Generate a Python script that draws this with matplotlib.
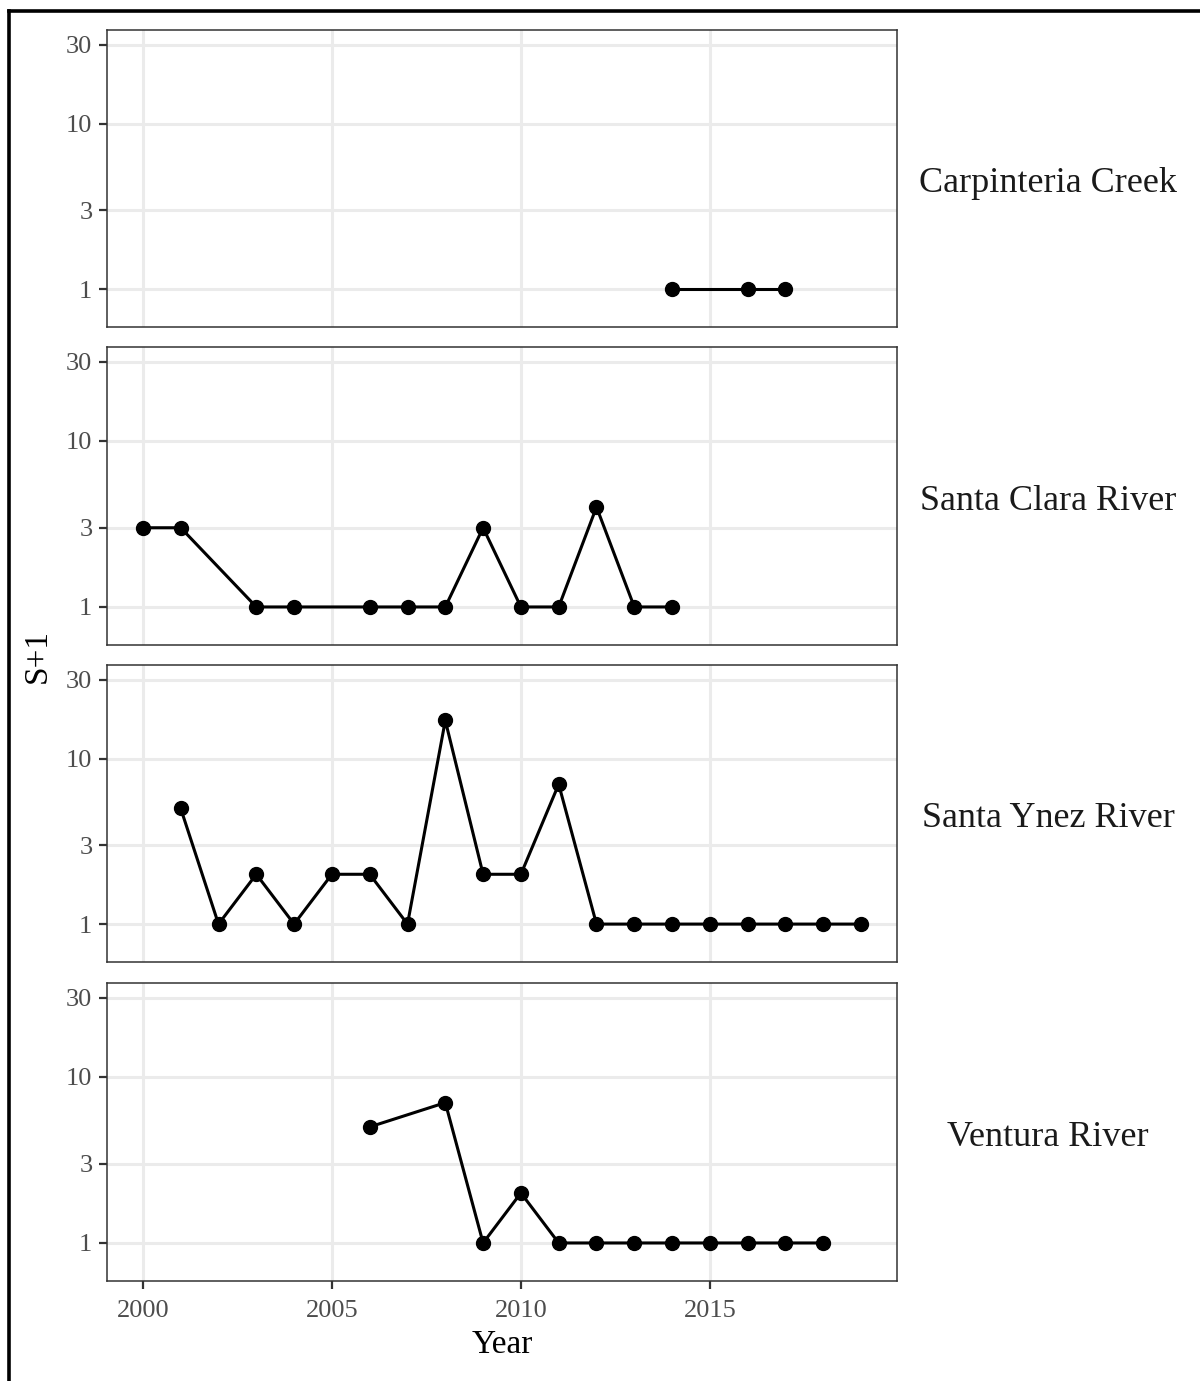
import matplotlib
matplotlib.use("Agg")
import matplotlib.pyplot as plt
from matplotlib.lines import Line2D
import numpy as np

plt.rcParams['font.family'] = ['Liberation Serif', 'DejaVu Serif']

rivers = ["Carpinteria Creek", "Santa Clara River", "Santa Ynez River", "Ventura River"]

carp_years = [2014, 2016, 2017]
carp_vals = [1, 1, 1]

sclara_years = [2000, 2001, 2003, 2004, 2006, 2007, 2008, 2009, 2010, 2011, 2012, 2013, 2014]
sclara_vals = [3, 3, 1, 1, 1, 1, 1, 3, 1, 1, 4, 1, 1]

synez_years = [2001, 2002, 2003, 2004, 2005, 2006, 2007, 2008, 2009, 2010, 2011,
               2012, 2013, 2014, 2015, 2016, 2017, 2018, 2019]
synez_vals = [5, 1, 2, 1, 2, 2, 1, 17, 2, 2, 7, 1, 1, 1, 1, 1, 1, 1, 1]

vent_years = [2006, 2008, 2009, 2010, 2011, 2012, 2013, 2014, 2015, 2016, 2017, 2018]
vent_vals = [5, 7, 1, 2, 1, 1, 1, 1, 1, 1, 1, 1]

series = [(carp_years, carp_vals), (sclara_years, sclara_vals),
          (synez_years, synez_vals), (vent_years, vent_vals)]

y_ticks = [1, 3, 10, 30]
x_ticks = [2000, 2005, 2010, 2015]

W, H = 1200, 1381
fig = plt.figure(figsize=(W / 100, H / 100), dpi=100)

left_px, right_px = 107, 897
panels_px = [(30, 327), (347, 645), (665, 962), (983, 1281)]

axes = []
for i, ((top, bot), (xs, ys), name) in enumerate(zip(panels_px, series, rivers)):
    ax = fig.add_axes([left_px / W, 1 - bot / H, (right_px - left_px) / W, (bot - top) / H])
    ax.set_yscale('log')
    ax.set_xlim(1999.05, 2019.95)
    ax.set_ylim(0.59, 36.8)
    ax.set_yticks(y_ticks)
    ax.set_yticklabels([str(t) for t in y_ticks])
    ax.yaxis.set_minor_locator(matplotlib.ticker.NullLocator())
    ax.set_xticks(x_ticks)
    ax.grid(True, which='major', color='#EBEBEB', linewidth=2.2)
    ax.set_axisbelow(True)
    for s in ax.spines.values():
        s.set_color('#333333')
        s.set_linewidth(1.1)
    ax.tick_params(axis='both', which='major', length=5.5, width=1.6, color='#333333',
                   labelsize=19, labelcolor='#4D4D4D', pad=5)
    ax.tick_params(axis='x', pad=8)
    if i < 3:
        ax.tick_params(axis='x', labelbottom=False, length=0)
    ax.plot(xs, ys, color='black', linewidth=2.2, marker='o', markersize=10,
            markerfacecolor='black', markeredgecolor='black', zorder=3)
    ax.text(1048 / W, 1 - ((top + bot) / 2 + 5) / H, name, transform=fig.transFigure,
            ha='center', va='center', fontsize=26, color='#1A1A1A')
    axes.append(ax)

fig.text(502 / W, 1 - 1345 / H, "Year", ha='center', va='center', fontsize=24, color='black')
fig.text(37 / W, 1 - 656 / H, "S+1", ha='center', va='center', fontsize=24,
         color='black', rotation=90)

# outer frame (top and left)
fig.add_artist(Line2D([8.5 / W, 1.0], [1 - 10.5 / H, 1 - 10.5 / H],
                      transform=fig.transFigure, color='black', linewidth=2.6))
fig.add_artist(Line2D([8.5 / W, 8.5 / W], [0.0, 1 - 10.5 / H],
                      transform=fig.transFigure, color='black', linewidth=2.6))

fig.savefig("out.png", dpi=100, facecolor='white')
